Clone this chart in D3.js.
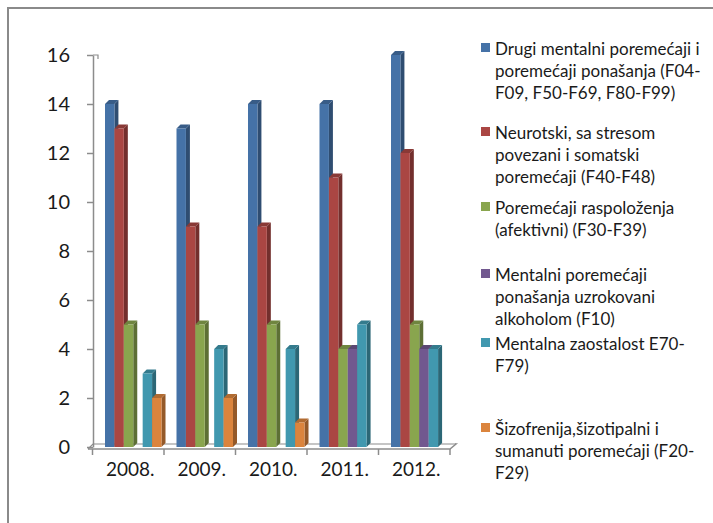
<!DOCTYPE html>
<html><head><meta charset="utf-8">
<script src="https://cdn.jsdelivr.net/npm/d3@7"></script>
<style>
body{margin:0;background:#fff}
svg{display:block}
text{font-family:Lato,"Liberation Sans",sans-serif;fill:#1a1a1a}
</style>
</head><body>
<svg id="c" width="713" height="523"></svg>
<script>
// ---- data ----
const years = ["2008.", "2009.", "2010.", "2011.", "2012."];
const seriesNames = [
  "Drugi mentalni poremećaji i\nporemećaji ponašanja (F04-\nF09, F50-F69, F80-F99)",
  "Neurotski, sa stresom\npovezani i somatski\nporemećaji (F40-F48)",
  "Poremećaji raspoloženja\n(afektivni) (F30-F39)",
  "Mentalni poremećaji\nponašanja uzrokovani\nalkoholom (F10)",
  "Mentalna zaostalost E70-\nF79)",
  "Šizofrenija,šizotipalni i\nsumanuti poremećaji (F20-\nF29)"
];
const drugi        = [14, 13, 14, 14, 16];
const neurotski    = [13,  9,  9, 11, 12];
const raspolozenje = [ 5,  5,  5,  4,  5];
const alkohol      = [ 0,  0,  0,  4,  4];
const zaostalost   = [ 3,  4,  4,  5,  4];
const sizofrenija  = [ 2,  2,  1,  0,  0];
const yTicks = [0, 2, 4, 6, 8, 10, 12, 14, 16];
const colors = ["#4572a7", "#aa4643", "#89a54e", "#71588f", "#4198af", "#db843d"];

const series = [drugi, neurotski, raspolozenje, alkohol, zaostalost, sizofrenija];

// ---- layout ----
const svg = d3.select("#c");
svg.append("rect").attr("x", 8).attr("y", 8).attr("width", 730).attr("height", 540)
  .attr("fill", "none").attr("stroke", "#8a8a8a").attr("stroke-width", 2);

const y = d3.scaleLinear().domain([0, 16]).range([447, 55]);
const x = d3.scaleBand().domain(years).range([92.5, 450]);
const inner = d3.scaleBand().domain(d3.range(series.length)).range([12.5, 69]);
const bw = inner.bandwidth();
const d = 4;

const axisColor = "#8c8c8c";

// floor
const fx0 = 88, fx1 = x.range()[1], fy = 449, dd = 6;
svg.append("path")
  .attr("d", `M${fx0},${fy}L${fx1},${fy}L${fx1 + dd},${fy - dd + 1}L${fx0 + 5 + (fx1 - fx0)},${fy - 5}`)
  .attr("fill", "none").attr("stroke", axisColor).attr("stroke-width", 1.5);
svg.append("path")
  .attr("d", `M${fx0},${fy}L${fx0 + 5},${fy - 5}L${fx1 + dd},${fy - 5}`)
  .attr("fill", "none").attr("stroke", axisColor).attr("stroke-width", 1.2);

// category ticks
const bounds = years.map(c => x(c)).concat([x.range()[1]]);
svg.append("g").selectAll("line").data(bounds).join("line")
  .attr("x1", v => v).attr("x2", v => v).attr("y1", fy).attr("y2", fy + 6)
  .attr("stroke", axisColor).attr("stroke-width", 1.5);

// y axis
const yAxis = svg.append("g").attr("transform", "translate(93,0)")
  .call(d3.axisLeft(y).tickValues(yTicks).tickSize(6).tickPadding(17).tickSizeOuter(0));
yAxis.select(".domain").attr("stroke", axisColor).attr("stroke-width", 1.5);
yAxis.selectAll(".tick line").attr("stroke", axisColor).attr("stroke-width", 1.5);
yAxis.selectAll(".tick text").attr("font-size", 20).attr("font-family", "Lato,'Liberation Sans',sans-serif").attr("fill", "#1a1a1a");
svg.append("path").attr("d", `M93,${y(16)}L98,${y(16)}L98,${y(16) + 4}`)
  .attr("fill", "none").attr("stroke", axisColor).attr("stroke-width", 1.2);

// year labels
svg.append("g").selectAll("text").data(years).join("text")
  .attr("x", c => x(c) + x.bandwidth() / 2 + 2).attr("y", 476)
  .attr("text-anchor", "middle").attr("font-size", 19).text(c => c);

// bars
const barsG = svg.append("g");
years.forEach((c, ci) => {
  series.forEach((s, si) => {
    const v = s[ci];
    if (!v) return;
    const col = d3.color(colors[si]);
    const x0 = x(c) + inner(si), x1 = x0 + bw;
    const yt = y(v), yb = y(0);
    const g = barsG.append("g");
    g.append("path")
      .attr("d", `M${x1},${yt}L${x1 + d},${yt - d}L${x1 + d},${yb - d}L${x1},${yb}Z`)
      .attr("fill", col.darker(1.1));
    g.append("path")
      .attr("d", `M${x0},${yt}L${x0 + d},${yt - d}L${x1 + d},${yt - d}L${x1},${yt}Z`)
      .attr("fill", col.darker(0.6));
    g.append("rect").attr("x", x0).attr("y", yt).attr("width", bw).attr("height", yb - yt)
      .attr("fill", col);
  });
});

// legend
const legendFirstBaseline = [55, 139, 214, 281, 350, 435];
const lineH = 22;
const lg = svg.append("g");
seriesNames.forEach((name, i) => {
  const by = legendFirstBaseline[i];
  lg.append("rect").attr("x", 481).attr("y", by - 12).attr("width", 9).attr("height", 9)
    .attr("fill", colors[i]);
  const t = lg.append("text").attr("x", 495).attr("y", by).attr("font-size", 17);
  name.split("\n").forEach((ln, k) => {
    t.append("tspan").attr("x", 495).attr("y", by + k * lineH).text(ln);
  });
});
</script>
</body></html>
